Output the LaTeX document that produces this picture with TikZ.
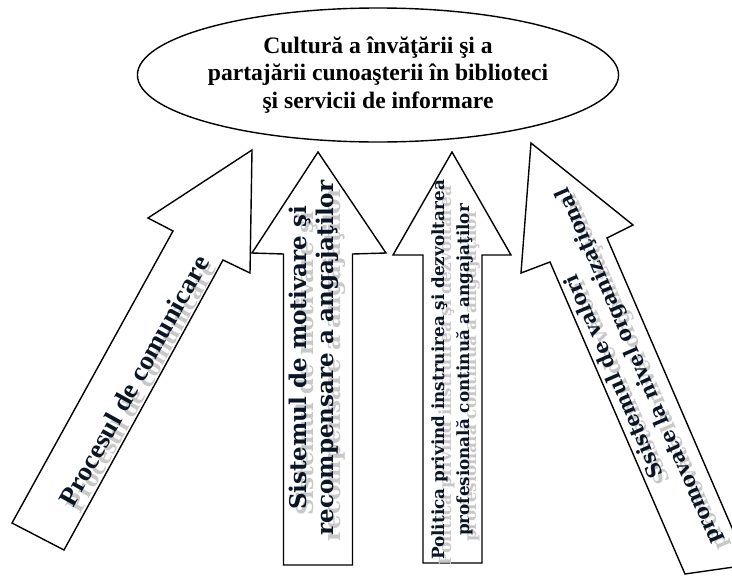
\documentclass[tikz,border=0pt]{standalone}
\usepackage{fontspec}
\setmainfont{Liberation Serif}
\newfontfamily\dvs{DejaVu Serif}
\newfontfamily\libs[FakeStretch=1.05]{Liberation Serif}
\usetikzlibrary{shapes.geometric}
\definecolor{ink}{HTML}{0B1526}
\definecolor{shade}{HTML}{C8C8C8}
\begin{document}
\begin{tikzpicture}[x=1pt,y=-1pt,
  arrowshape/.style={draw=black, line width=1.4pt, fill=white, line join=miter},
  lbl/.style={inner sep=0pt, align=center, text=ink},
  shd/.style={inner sep=0pt, align=center, text=shade},
  fA/.style={font=\libs\bfseries\fontsize{26.5}{30}\selectfont},
  fB/.style={font=\dvs\bfseries\fontsize{23}{27}\selectfont},
  fC/.style={font=\dvs\bfseries\fontsize{16.8}{25}\selectfont},
  fD/.style={font=\dvs\bfseries\fontsize{20.5}{27}\selectfont},
 ]
\useasboundingbox (0,0) rectangle (732,576);
\clip (0,0) rectangle (732,576);

% goal ellipse
\node[ellipse, draw, line width=1.4pt, minimum width=386pt, minimum height=134pt,
      inner sep=0pt, align=center, font=\bfseries\fontsize{23.6}{27.5}\selectfont] (goal) at (378,75)
  {Cultură a învăţării şi a\\partajării cunoaşterii în biblioteci\\şi servicii de informare};

% arrow 1
\draw[arrowshape] (12,523) -- (173,231) -- (148,218) -- (252,150) -- (250,273) -- (223,260) -- (64,550) -- cycle;
% arrow 2
\draw[arrowshape] (283.5,565) -- (283.5,254) -- (252,253) -- (318,152) -- (386,253) -- (352.5,254) -- (352.5,565) -- cycle;
% arrow 3
\draw[arrowshape] (423,563) -- (423,255) -- (393,255) -- (452,152) -- (511,255) -- (482,255) -- (482,563) -- cycle;
% arrow 4
\draw[arrowshape] (685,574) -- (550,262) -- (521,273) -- (531,143) -- (633,225) -- (607,238) -- (748,565) -- cycle;

% labels with shadows
\node[shd, fA, rotate=61] (t1s) at (141,387) {Procesul de comunicare};
\node[lbl, fA, rotate=61] (t1) at (134,381) {Procesul de comunicare};

\node[shd, fB, rotate=90] (t2s) at (320.5,364) {Sistemul de motivare şi\\recompensare a angajaţilor};
\node[lbl, fB, rotate=90] (t2) at (313.5,358) {Sistemul de motivare şi\\recompensare a angajaţilor};

\node[shd, fC, rotate=90] (t3s) at (459,376) {Politica privind instruirea şi dezvoltarea\\profesională continuă a angajaţilor};
\node[lbl, fC, rotate=90] (t3) at (452,370) {Politica privind instruirea şi dezvoltarea\\profesională continuă a angajaţilor};

\node[shd, fD, rotate=113.4] (t4s) at (634,377) {Ssistemul de valori\\promovate la nivel organizaţional};
\node[lbl, fD, rotate=113.4] (t4) at (627,371) {Ssistemul de valori\\promovate la nivel organizaţional};
\end{tikzpicture}
\end{document}
